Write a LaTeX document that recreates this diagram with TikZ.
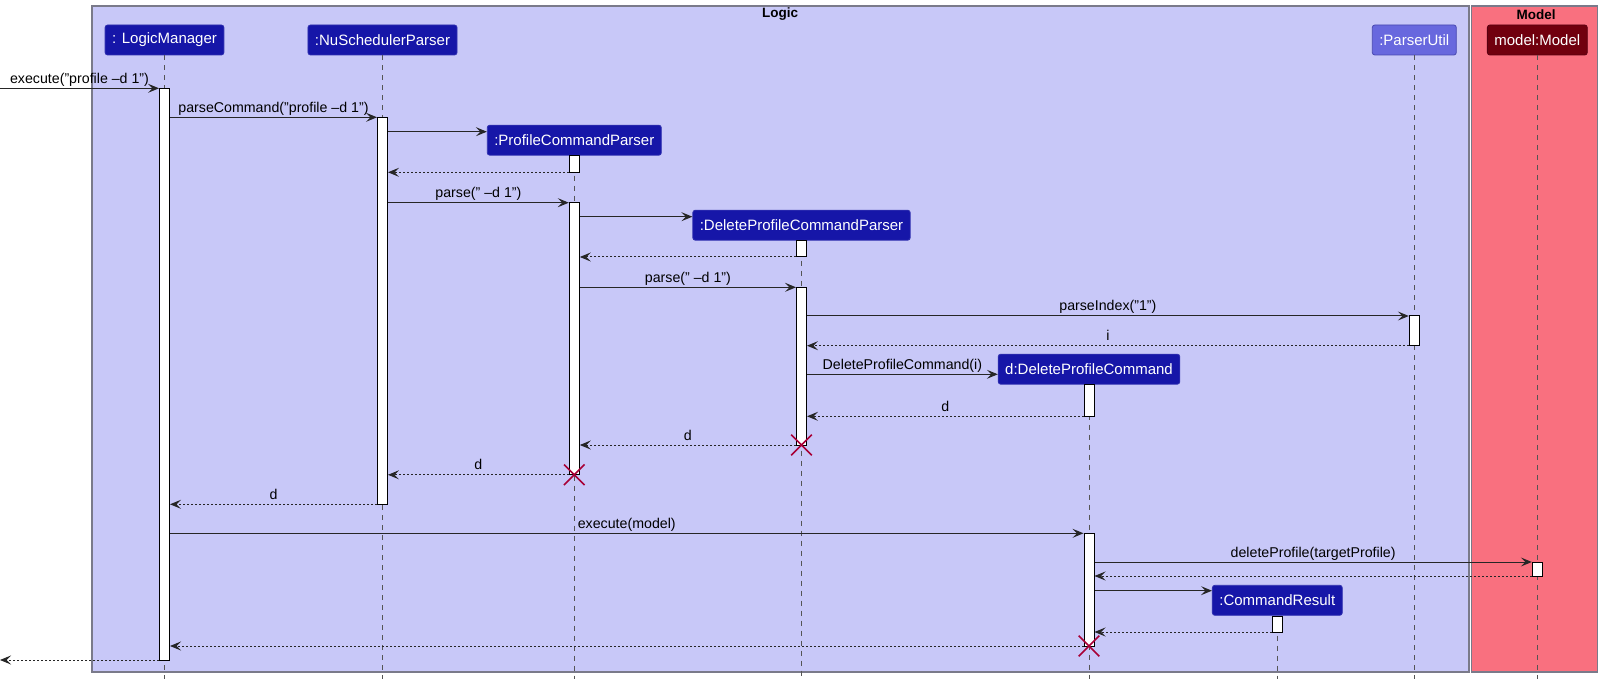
\documentclass[tikz,border=0pt]{standalone}
\usepackage{fontspec}
\setmainfont{Liberation Sans}
\usetikzlibrary{arrows.meta,shapes.misc}
\definecolor{logicbg}{HTML}{C8C8F8}
\definecolor{modelbg}{HTML}{F9707F}
\definecolor{framedraw}{HTML}{7A7A8A}
\definecolor{boxfill}{HTML}{1616A8}
\definecolor{boxdraw}{HTML}{3030B0}
\definecolor{utilfill}{HTML}{6868DE}
\definecolor{utildraw}{HTML}{4848B0}
\definecolor{mfill}{HTML}{71000E}
\definecolor{mdraw}{HTML}{5A0010}
\definecolor{xred}{HTML}{A80036}
\definecolor{lifegray}{HTML}{555555}
\newcommand\msg[5][call]{\draw[#1] (#2 |- 0,#4) -- node[lbl]{#5} (#3 |- 0,#4);}
\newcommand\actbar[4]{\node[act, minimum height={(#4)-(#3)}] (#1) at (#2,{((#3)+(#4))/2}) {};}
\begin{document}
\begin{tikzpicture}[x=1pt,y=-1pt,
  part/.style={rectangle, rounded corners=2.5pt, fill=boxfill, draw=boxdraw, line width=0.8pt,
    text=white, font=\fontsize{15}{18}\selectfont, inner xsep=7pt, inner ysep=0pt, minimum height=30pt},
  act/.style={rectangle, fill=white, draw=black, line width=1pt, minimum width=10pt, inner sep=0pt},
  life/.style={draw=lifegray, dash pattern=on 5pt off 5pt, line width=0.8pt},
  call/.style={draw=black!85, line width=1pt, -{Stealth[length=11pt,width=9pt,inset=4.5pt]}},
  ret/.style={call, dash pattern=on 2pt off 2pt},
  lbl/.style={font=\fontsize{14.2}{16}\selectfont, anchor=base, yshift=5pt, inner sep=0pt},
  ttl/.style={font=\fontsize{13.5}{16}\bfseries\selectfont, inner sep=0pt},
  xmark/.style={cross out, draw=xred, line width=1.6pt, minimum size=19pt, inner sep=0pt},
  framebox/.style={draw=framedraw, line width=1.2pt}]
\useasboundingbox (0,0) rectangle (1608,684);
\fill[white] (0,0) rectangle (1608,684);
% frames
\filldraw[framebox, fill=logicbg] (92,6) rectangle (1469,672);
\filldraw[framebox, fill=modelbg] (1471.5,6) rectangle (1597.5,672);
\node[ttl] (tlogic) at (780,14.5) {Logic};
\node[ttl] (tmodel) at (1536,14.5) {Model};
% participants
\node[part] (p1) at (164.5,40) {: LogicManager};
\node[part] (p2) at (382.5,40) {:NuSchedulerParser};
\node[part] (p3) at (574.3,140.2) {:ProfileCommandParser};
\node[part] (p4) at (801.5,225.2) {:DeleteProfileCommandParser};
\node[part] (p5) at (1089,369.2) {d:DeleteProfileCommand};
\node[part] (p6) at (1277.3,600.3) {:CommandResult};
\node[part, fill=utilfill, draw=utildraw] (p7) at (1414.3,40) {:ParserUtil};
\node[part, fill=mfill, draw=mdraw] (p8) at (1537.3,40) {model:Model};
% lifelines
\foreach \p in {p1,p2,p3,p4,p5,p6,p7,p8}
  \draw[life] (\p.south) -- (\p.south |- 0,679);
% activations
\actbar{a1}{164.5}{88.3}{660}
\actbar{a2}{382.5}{117.3}{504.3}
\actbar{a3}{574.3}{155.3}{172.3}
\actbar{a4}{574.3}{202.7}{474.8}
\actbar{a5}{801.5}{240.3}{257}
\actbar{a6}{801.5}{287.3}{445}
\actbar{a7}{1414.3}{316}{345.7}
\actbar{a8}{1089}{384.3}{416.3}
\actbar{a9}{1089}{533.3}{646}
\actbar{a10}{1537.3}{562}{576}
\actbar{a11}{1277.3}{616}{632}
% external points
\coordinate (ein) at (0,88.3);
\coordinate (eout) at (0,660);
% messages
\draw[call] (ein) -- node[lbl]{execute("profile –d 1")} (a1.west |- ein);
\msg{a1.east}{a2.west}{117.3}{parseCommand("profile –d 1")}
\msg{a2.east}{p3.west}{131.7}{}
\msg[ret]{a3.west}{a2.east}{172.3}{}
\msg{a2.east}{a4.west}{202.7}{parse(" –d 1")}
\msg{a4.east}{p4.west}{216.7}{}
\msg[ret]{a5.west}{a4.east}{257}{}
\msg{a4.east}{a6.west}{287.3}{parse(" –d 1")}
\msg{a6.east}{a7.west}{316}{parseIndex("1")}
\msg[ret]{a7.west}{a6.east}{345.7}{i}
\msg{a6.east}{p5.west}{374.3}{DeleteProfileCommand(i)}
\msg[ret]{a8.west}{a6.east}{416.3}{d}
\msg[ret]{a6.west}{a4.east}{445}{d}
\msg[ret]{a4.west}{a2.east}{474.8}{d}
\msg[ret]{a2.west}{a1.east}{504.3}{d}
\msg{a1.east}{a9.west}{533.3}{execute(model)}
\msg{a9.east}{a10.west}{562}{deleteProfile(targetProfile)}
\msg[ret]{a10.west}{a9.east}{576}{}
\msg{a9.east}{p6.west}{590.7}{}
\msg[ret]{a11.west}{a9.east}{632}{}
\msg[ret]{a9.west}{a1.east}{646}{}
\draw[ret] (a1.west |- eout) -- (eout);
% destroy marks
\node[xmark] (x1) at (801.5,445) {};
\node[xmark] (x2) at (574.3,474.8) {};
\node[xmark] (x3) at (1089,646) {};
\end{tikzpicture}
\end{document}
